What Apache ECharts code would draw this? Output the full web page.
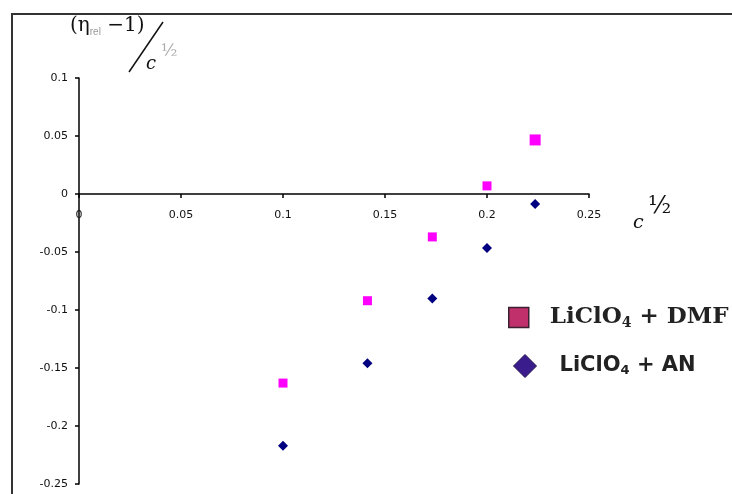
<!DOCTYPE html>
<html lang="en">
<head>
    <meta charset="UTF-8">
    <title>LiClO4 viscosity</title>
    <style>
        * { margin: 0; padding: 0; }
        html, body { width: 100%; height: 100%; background: #fff; }
        #charts { width: 732px; height: 494px; }
    </style>
    <script src="https://cdn.jsdelivr.net/npm/echarts@6/dist/echarts.min.js"></script>
</head>
<body>
<div id="charts"></div>
<script>
    // c^1/2 values
    var xValues = [0.1, 0.1414, 0.1732, 0.2, 0.2236];
    // (eta_rel - 1) / c^1/2
    var dmfValues = [-0.163, -0.092, -0.037, 0.007, 0.0466];
    var anValues = [-0.217, -0.146, -0.090, -0.0466, -0.0086];
    var seriesNames = ['LiClO4 + DMF', 'LiClO4 + AN'];

    function pairs(xs, ys) {
        var out = [];
        for (var i = 0; i < xs.length; i++) {
            out.push([xs[i], ys[i]]);
        }
        return out;
    }

    var dmfData = pairs(xValues, dmfValues);
    // last DMF point is drawn a bit bigger in the original
    dmfData[dmfData.length - 1] = { value: dmfData[dmfData.length - 1], symbolSize: 11 };

    var labelFont = { color: '#111', fontSize: 11, fontFamily: 'DejaVu Sans' };

    var option = {
        animation: false,
        grid: { left: 79, right: 143, top: 78, bottom: 10 },
        xAxis: {
            type: 'value',
            min: 0, max: 0.25, interval: 0.05,
            // axis sits on y = 0, which is 290px above the grid bottom
            offset: -290,
            axisLine: { onZero: false, lineStyle: { color: '#000', width: 1.5 } },
            axisTick: { show: true, length: 4, lineStyle: { color: '#000', width: 1.5 } },
            axisLabel: Object.assign({ margin: 16 }, labelFont),
            splitLine: { show: false }
        },
        yAxis: {
            type: 'value',
            min: -0.25, max: 0.1, interval: 0.05,
            axisLine: { show: true, lineStyle: { color: '#000', width: 1.5 } },
            axisTick: { show: true, length: 4, lineStyle: { color: '#000', width: 1.5 } },
            axisLabel: Object.assign({ margin: 11 }, labelFont),
            splitLine: { show: false }
        },
        legend: [{
            left: 503, top: 301,
            itemWidth: 20, itemHeight: 20,
            data: [{ name: seriesNames[0], icon: 'rect',
                itemStyle: { color: '#c0306a', borderColor: '#3a2030', borderWidth: 1.5 } }],
            formatter: function () { return '{g|}{a|LiClO}{s|4}{a| + DMF}'; },
            textStyle: {
                rich: {
                    g: { width: 16 },
                    a: { fontFamily: 'DejaVu Serif', fontWeight: 'bold', fontSize: 23, color: '#222' },
                    s: { fontFamily: 'DejaVu Serif', fontWeight: 'bold', fontSize: 14, color: '#222', padding: [12, 0, 0, 0] }
                }
            }
        }, {
            left: 508, top: 349,
            itemWidth: 23, itemHeight: 23,
            data: [{ name: seriesNames[1], icon: 'diamond',
                itemStyle: { color: '#3b1c8c', borderColor: '#20104a', borderWidth: 1 } }],
            formatter: function () { return '{g|}{b|LiClO}{t|4}{b| + AN}'; },
            textStyle: {
                rich: {
                    g: { width: 18 },
                    b: { fontFamily: 'DejaVu Sans', fontWeight: 'bold', fontSize: 21, color: '#222' },
                    t: { fontFamily: 'DejaVu Sans', fontWeight: 'bold', fontSize: 13, color: '#222', padding: [10, 0, 0, 0] }
                }
            }
        }],
        series: [{
            name: seriesNames[0],
            type: 'scatter',
            symbol: 'rect',
            symbolSize: 9,
            itemStyle: { color: '#ff00ff', opacity: 1 },
            data: dmfData
        }, {
            name: seriesNames[1],
            type: 'scatter',
            symbol: 'diamond',
            symbolSize: 10,
            itemStyle: { color: '#000080', opacity: 1 },
            data: pairs(xValues, anValues)
        }],
        graphic: [
            // outer frame
            { type: 'rect', shape: { x: 12, y: 14, width: 760, height: 520 },
              style: { fill: 'none', stroke: '#333', lineWidth: 2 }, silent: true },
            // y title
            { type: 'text', left: 70, top: 16,
              style: { text: '(η{sub|rel} −1)', font: '20px "DejaVu Serif"', fill: '#111',
                  rich: { sub: { fontSize: 10, fill: '#999', padding: [12, 0, 0, 0] } } } },
            { type: 'line', shape: { x1: 129, y1: 72, x2: 163, y2: 22 },
              style: { stroke: '#111', lineWidth: 1.5 } },
            { type: 'text', left: 146, top: 55,
              style: { text: 'c', font: 'italic 18px "DejaVu Serif"', fill: '#111' } },
            { type: 'text', left: 161, top: 43,
              style: { text: '½', font: '17px "DejaVu Serif"', fill: '#aaa' } },
            // x title
            { type: 'text', left: 633, top: 214,
              style: { text: 'c', font: 'italic 19px "DejaVu Serif"', fill: '#111' } },
            { type: 'text', left: 648, top: 195,
              style: { text: '½', font: '24px "DejaVu Serif"', fill: '#111' } }
        ]
    };

    var myChart = echarts.init(document.getElementById('charts'));
    myChart.setOption(option);
</script>
</body>
</html>
